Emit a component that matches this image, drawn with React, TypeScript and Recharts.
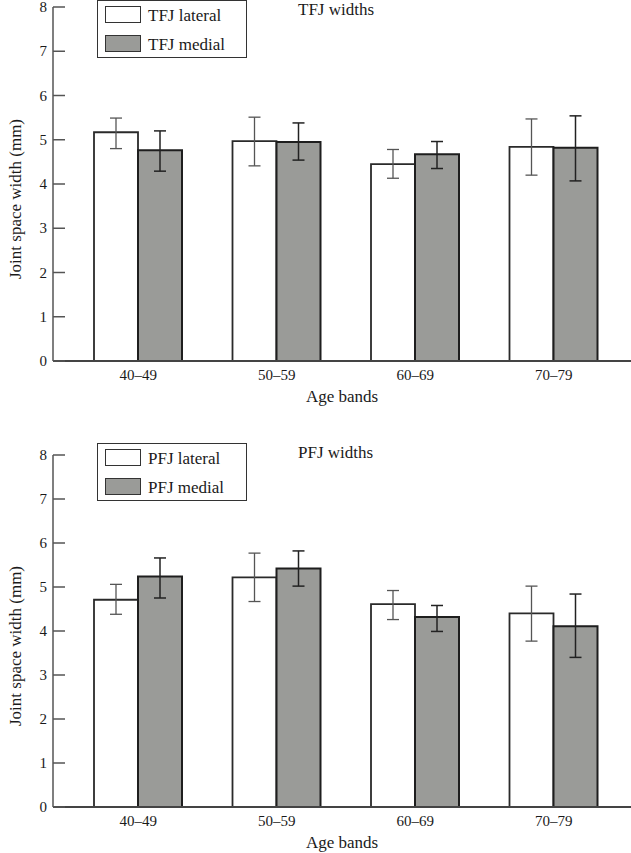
import React from 'react';
import { BarChart, Bar, XAxis, YAxis, ErrorBar, Legend, Label } from 'recharts';

const categories = ['40–49', '50–59', '60–69', '70–79'];
const yTicks = [0, 1, 2, 3, 4, 5, 6, 7, 8];

// TFJ widths
const tfjLateral = [5.17, 4.97, 4.45, 4.84];
const tfjLateralLow = [4.8, 4.41, 4.13, 4.2];
const tfjLateralHigh = [5.49, 5.51, 4.78, 5.47];
const tfjMedial = [4.76, 4.95, 4.67, 4.82];
const tfjMedialLow = [4.29, 4.54, 4.35, 4.07];
const tfjMedialHigh = [5.2, 5.38, 4.96, 5.54];

// PFJ widths
const pfjLateral = [4.71, 5.22, 4.61, 4.4];
const pfjLateralLow = [4.38, 4.67, 4.26, 3.77];
const pfjLateralHigh = [5.06, 5.77, 4.92, 5.02];
const pfjMedial = [5.24, 5.42, 4.32, 4.11];
const pfjMedialLow = [4.75, 5.02, 3.99, 3.4];
const pfjMedialHigh = [5.66, 5.82, 4.58, 4.84];

const FONT = '"Liberation Serif", "Times New Roman", serif';
const MEDIAL_FILL = '#9a9b98';
const TEXT = '#1a1a1a';

function buildData(lat: number[], latLo: number[], latHi: number[], med: number[], medLo: number[], medHi: number[]) {
  return categories.map((c, i) => ({
    band: c,
    lateral: lat[i],
    lateralErr: [lat[i] - latLo[i], latHi[i] - lat[i]],
    medial: med[i],
    medialErr: [med[i] - medLo[i], medHi[i] - med[i]],
  }));
}

const tfjData = buildData(tfjLateral, tfjLateralLow, tfjLateralHigh, tfjMedial, tfjMedialLow, tfjMedialHigh);
const pfjData = buildData(pfjLateral, pfjLateralLow, pfjLateralHigh, pfjMedial, pfjMedialLow, pfjMedialHigh);

const YTick = (props: any) => {
  const { x, y, payload } = props;
  return (
    <g>
      <line x1={x + 6} x2={x + 18} y1={y} y2={y} stroke="#555" strokeWidth={1.5} />
      <text x={x} y={y} dy={5} textAnchor="end" fontFamily={FONT} fontSize={15} fill={TEXT}>
        {payload.value}
      </text>
    </g>
  );
};

const YLabel = (props: any) => {
  const vb = props.viewBox || { x: 0, y: 0, width: 53, height: 354 };
  const cx = 15;
  const cy = vb.y + vb.height / 2 + 15;
  return (
    <text
      x={cx}
      y={cy}
      transform={`rotate(-90, ${cx}, ${cy})`}
      textAnchor="middle"
      dominantBaseline="central"
      fontFamily={FONT}
      fontSize={17}
      fill={TEXT}
    >
      Joint space width (mm)
    </text>
  );
};

const makeLegend = (latName: string, medName: string, title: string) => () => (
  <div style={{ position: 'relative', width: 150, height: 58, fontFamily: FONT, color: TEXT }}>
    <div
      style={{
        position: 'absolute',
        left: 0,
        top: 0,
        width: 150,
        height: 58,
        boxSizing: 'border-box',
        border: '1.5px solid #333',
        background: '#fff',
      }}
    />
    <div style={{ position: 'absolute', left: 8, top: 6, width: 36, height: 17, boxSizing: 'border-box', border: '1.5px solid #333', background: '#fff' }} />
    <div style={{ position: 'absolute', left: 8, top: 35, width: 36, height: 17, boxSizing: 'border-box', border: '1.5px solid #333', background: MEDIAL_FILL }} />
    <div style={{ position: 'absolute', left: 51, top: 7, fontSize: 17, lineHeight: '17px', whiteSpace: 'nowrap' }}>{latName}</div>
    <div style={{ position: 'absolute', left: 51, top: 36, fontSize: 17, lineHeight: '17px', whiteSpace: 'nowrap' }}>{medName}</div>
    <div style={{ position: 'absolute', left: 201, top: 1, fontSize: 17, lineHeight: '17px', whiteSpace: 'nowrap' }}>{title}</div>
  </div>
);

function Panel(p: { data: any[]; height: number; top: number; marginTop: number; legendTop: number; latName: string; medName: string; title: string }) {
  return (
    <div style={{ position: 'absolute', left: 0, top: p.top, width: 631, height: p.height }}>
      <BarChart
        width={631}
        height={p.height}
        data={p.data}
        margin={{ top: p.marginTop, right: 0, bottom: 0, left: 0 }}
        barSize={44}
        barGap={0}
      >
        <XAxis
          dataKey="band"
          height={46}
          padding={{ left: 16, right: 8 }}
          axisLine={{ stroke: '#444', strokeWidth: 2 }}
          tickLine={false}
          tickSize={0}
          tickMargin={8}
          tick={{ fontFamily: FONT, fontSize: 15, fill: TEXT }}
        >
          <Label value="Age bands" position="insideBottom" offset={5} style={{ fontFamily: FONT, fontSize: 17, fill: TEXT }} />
        </XAxis>
        <YAxis
          width={53}
          domain={[0, 8]}
          ticks={yTicks}
          interval={0}
          axisLine={{ stroke: '#555', strokeWidth: 1.5 }}
          tickLine={false}
          tickSize={0}
          tickMargin={6}
          tick={YTick}
        >
          <Label content={YLabel} position="insideLeft" />
        </YAxis>
        <Legend
          layout="vertical"
          align="center"
          verticalAlign="middle"
          content={makeLegend(p.latName, p.medName, p.title)}
          wrapperStyle={{ left: 97, top: p.legendTop, width: 150, height: 58 }}
        />
        <Bar dataKey="lateral" name={p.latName} fill="#ffffff" stroke="#2a2a2a" strokeWidth={1.8} isAnimationActive={false}>
          <ErrorBar dataKey="lateralErr" width={6} stroke="#555" strokeWidth={1.3} direction="y" />
        </Bar>
        <Bar dataKey="medial" name={p.medName} fill={MEDIAL_FILL} stroke="#1e1e1e" strokeWidth={2} isAnimationActive={false}>
          <ErrorBar dataKey="medialErr" width={6} stroke="#222" strokeWidth={1.5} direction="y" />
        </Bar>
      </BarChart>
    </div>
  );
}

export default function App() {
  return (
    <div style={{ position: 'absolute', left: 0, top: 0, width: 631, height: 853, background: '#fff' }}>
      <Panel data={tfjData} height={407} top={0} marginTop={7} legendTop={0} latName="TFJ lateral" medName="TFJ medial" title="TFJ widths" />
      <Panel data={pfjData} height={423} top={430} marginTop={25} legendTop={13} latName="PFJ lateral" medName="PFJ medial" title="PFJ widths" />
    </div>
  );
}
